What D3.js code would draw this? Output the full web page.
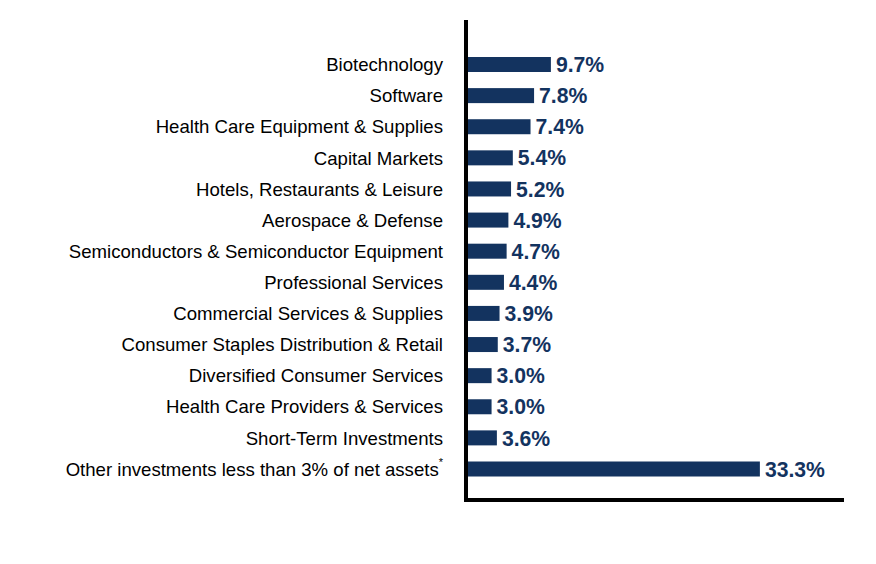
<!DOCTYPE html>
<html><head><meta charset="utf-8">
<script src="https://cdn.jsdelivr.net/npm/d3@7"></script>
<style>body{margin:0;background:#fff}svg{display:block}</style>
</head><body>
<svg id="c" width="876" height="564"></svg>
<script>
const categories = ["Biotechnology","Software","Health Care Equipment & Supplies","Capital Markets","Hotels, Restaurants & Leisure","Aerospace & Defense","Semiconductors & Semiconductor Equipment","Professional Services","Commercial Services & Supplies","Consumer Staples Distribution & Retail","Diversified Consumer Services","Health Care Providers & Services","Short-Term Investments","Other investments less than 3% of net assets"];
const values = [9.7,7.8,7.4,5.4,5.2,4.9,4.7,4.4,3.9,3.7,3.0,3.0,3.6,33.3];
const valueLabels = ["9.7%","7.8%","7.4%","5.4%","5.2%","4.9%","4.7%","4.4%","3.9%","3.7%","3.0%","3.0%","3.6%","33.3%"];

const svg = d3.select("#c");
const x0 = 465, x1 = 844;
const x = d3.scaleLinear().domain([0, 42.8]).range([x0, x1]);
const y = d3.scalePoint().domain(categories).range([64.5, 469]);
const barH = 15;
const navy = "#13335f";

svg.selectAll("rect.bar").data(categories).join("rect")
  .attr("class","bar")
  .attr("x", x(0)).attr("y", d => y(d) - barH/2)
  .attr("width", (d,i) => x(values[i]) - x(0))
  .attr("height", barH).attr("fill", navy);

svg.selectAll("text.val").data(categories).join("text")
  .attr("class","val")
  .attr("x", (d,i) => x(values[i]) + 5)
  .attr("y", d => y(d)).attr("dy","0.36em")
  .attr("font-family","'Liberation Sans', Arial, sans-serif")
  .attr("font-weight","bold").attr("font-size", 21.2)
  .attr("fill", navy)
  .text((d,i) => valueLabels[i]);

const lab = svg.selectAll("text.cat").data(categories).join("text")
  .attr("class","cat")
  .attr("x", 443)
  .attr("y", d => y(d)).attr("dy","0.36em")
  .attr("text-anchor","end")
  .attr("font-family","'Liberation Sans', Arial, sans-serif")
  .attr("font-size", 18.6).attr("fill","#000");
lab.each(function(d,i){
  const t = d3.select(this);
  if (i === categories.length - 1) {
    t.append("tspan").text(d);
    t.append("tspan").attr("font-size", 11).attr("dy", "-0.9em").text("*");
  } else t.text(d);
});

// axes lines
svg.append("line").attr("x1", 466).attr("x2", 466).attr("y1", 20).attr("y2", 502)
  .attr("stroke","#000").attr("stroke-width",4);
svg.append("line").attr("x1", 464).attr("x2", 844).attr("y1", 500).attr("y2", 500)
  .attr("stroke","#000").attr("stroke-width",4);
</script>
</body></html>
